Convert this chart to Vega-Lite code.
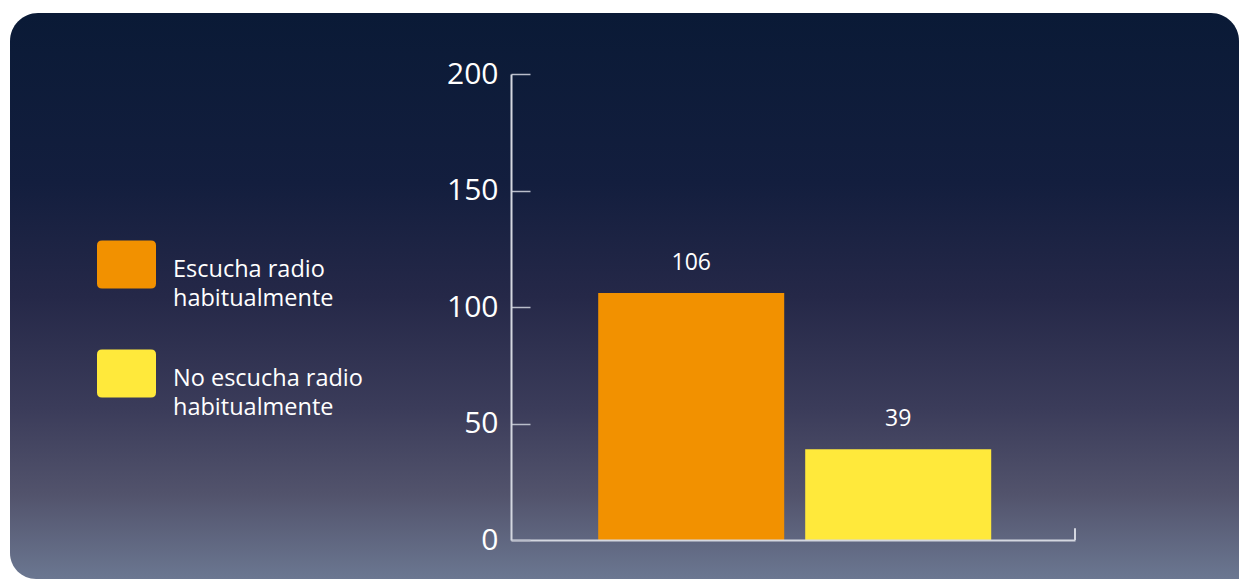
{
  "$schema": "https://vega.github.io/schema/vega-lite/v6.json",
  "width": 1229,
  "height": 566,
  "autosize": {"type": "none"},
  "padding": {"left": 10, "top": 13, "right": 0, "bottom": 1},
  "background": "#ffffff",
  "config": {
    "view": {"stroke": null},
    "font": "Open Sans",
    "style": {"guide-label": {"lineHeight": 29}}
  },
  "datasets": {
    "radio": [
      {"categoria": "Escucha radio habitualmente", "oyentes": 106},
      {"categoria": "No escucha radio habitualmente", "oyentes": 39}
    ]
  },
  "layer": [
    {
      "data": {"values": [{}]},
      "mark": {
        "type": "rect",
        "cornerRadiusTopLeft": 28,
        "cornerRadiusTopRight": 28,
        "cornerRadiusBottomLeft": 26,
        "fill": {
          "gradient": "linear",
          "x1": 0, "y1": 0, "x2": 0, "y2": 1,
          "stops": [
            {"offset": 0, "color": "#0a1a36"},
            {"offset": 0.3, "color": "#131e3e"},
            {"offset": 0.5, "color": "#252848"},
            {"offset": 0.7, "color": "#3b3c5a"},
            {"offset": 0.85, "color": "#52536c"},
            {"offset": 1, "color": "#6b7791"}
          ]
        }
      },
      "encoding": {}
    },
    {
      "data": {"name": "radio"},
      "encoding": {
        "x": {
          "field": "categoria",
          "type": "nominal",
          "sort": null,
          "scale": {"range": [501, 1065], "paddingInner": 0.1014, "paddingOuter": 0.413, "align": 0.51},
          "axis": {
            "orient": "bottom",
            "offset": -39,
            "labels": false,
            "ticks": false,
            "title": null,
            "domainColor": "#d4d7e0",
            "domainWidth": 2,
            "zindex": 1
          }
        },
        "y": {
          "field": "oyentes",
          "type": "quantitative",
          "scale": {"domain": [0, 200], "range": [527, 61], "nice": false, "zero": true},
          "axis": {
            "orient": "left",
            "offset": -501,
            "values": [0, 50, 100, 150, 200],
            "title": null,
            "grid": false,
            "domainColor": "#d4d7e0",
            "domainWidth": 2,
            "tickColor": "#b9bdca",
            "tickWidth": 1.5,
            "tickSize": -19,
            "labelPadding": 32,
            "labelFont": "Open Sans",
            "labelFontSize": 30,
            "labelColor": "#ffffff",
            "zindex": 1
          }
        }
      },
      "layer": [
        {
          "mark": {"type": "bar"},
          "encoding": {
            "color": {
              "field": "categoria",
              "type": "nominal",
              "sort": null,
              "scale": {"range": ["#f29100", "#ffe93b"]},
              "legend": {
                "orient": "none",
                "legendX": 87,
                "legendY": 215.5,
                "title": null,
                "padding": 0,
                "symbolType": "M-0.83,-0.594 L0.83,-0.594 Q1,-0.594 1,-0.424 L1,0.864 Q1,1.034 0.83,1.034 L-0.83,1.034 Q-1,1.034 -1,0.864 L-1,-0.424 Q-1,-0.594 -0.83,-0.594 Z",
                "symbolSize": 3481,
                "symbolStrokeWidth": 0,
                "labelFont": "Open Sans",
                "labelFontSize": 23.5,
                "labelColor": "#ffffff",
                "labelLimit": 300,
                "labelOffset": 17,
                "labelBaseline": "top",
                "labelExpr": "[replace(datum.label, ' habitualmente', ''), 'habitualmente']",
                "rowPadding": 27,
                "zindex": 1
              }
            }
          }
        },
        {
          "mark": {"type": "text", "dy": -23, "baseline": "alphabetic", "align": "center", "font": "Open Sans", "fontSize": 23, "color": "#ffffff"},
          "encoding": {"text": {"field": "oyentes", "type": "quantitative"}}
        }
      ]
    },
    {
      "data": {"values": [{}]},
      "mark": {"type": "rule", "color": "#d4d7e0", "strokeWidth": 2},
      "encoding": {
        "x": {"datum": 1, "type": "quantitative", "scale": {"domain": [0, 1], "range": [501, 1065]}, "axis": null},
        "y": {"datum": 0, "type": "quantitative"},
        "y2": {"datum": 5}
      }
    }
  ],
  "resolve": {"scale": {"x": "independent"}, "axis": {"x": "independent"}}
}
